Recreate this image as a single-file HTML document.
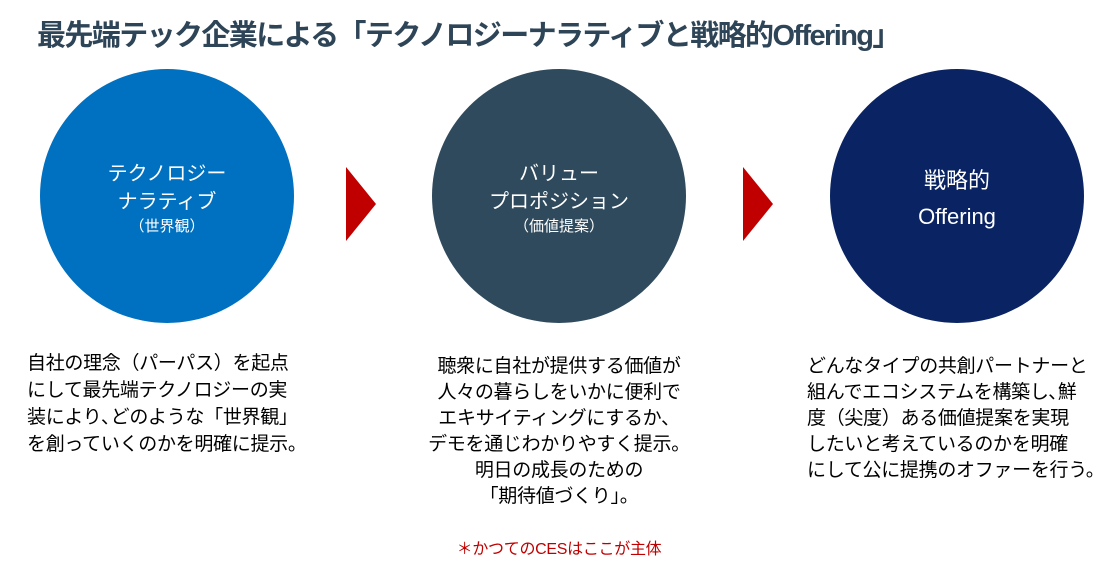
<!DOCTYPE html>
<html><head><meta charset="utf-8"><style>
body{margin:0;width:1111px;height:562px;background:#fff;position:relative;overflow:hidden;font-family:"Liberation Sans","Noto Sans CJK JP",sans-serif;}
.t{position:absolute;left:37px;top:12px;font-size:29px;font-weight:bold;color:#2e4457;white-space:nowrap;letter-spacing:-1.6px}
.c{position:absolute;width:254px;height:254px;border-radius:50%;top:69px;color:#fff;text-align:center;display:flex;flex-direction:column;justify-content:center;}
.a{position:absolute;width:0;height:0;border-top:37px solid transparent;border-bottom:37px solid transparent;border-left:30px solid #c00000;top:167px}
.p{position:absolute;font-size:19px;color:#000;white-space:nowrap;letter-spacing:-0.3px}
</style></head><body>
<div class="t">最先端テック企業による「テクノロジーナラティブと戦略的Offering」</div>
<div class="c" style="left:40px;background:#0070c0"><div style="font-size:20px;line-height:28px;margin-top:6px">テクノロジー<br>ナラティブ</div><div style="font-size:15px;line-height:22px">（世界観）</div></div>
<div class="a" style="left:346px"></div>
<div class="c" style="left:432px;background:#2f4a5d"><div style="font-size:20px;line-height:28px;margin-top:6px">バリュー<br>プロポジション</div><div style="font-size:15px;line-height:22px">（価値提案）</div></div>
<div class="a" style="left:743px"></div>
<div class="c" style="left:830px;background:#0a2463"><div style="font-size:22px;line-height:36px;margin-top:6px">戦略的<br>Offering</div></div>
<div class="p" style="left:27px;top:350px;line-height:27px">自社の理念（パーパス）を起点<br>にして最先端テクノロジーの実<br>装により､どのような「世界観」<br>を創っていくのかを明確に提示。</div>
<div class="p" style="left:400px;width:318px;text-align:center;top:354px;line-height:26px">聴衆に自社が提供する価値が<br>人々の暮らしをいかに便利で<br>エキサイティングにするか、<br>デモを通じわかりやすく提示。<br>明日の成長のための<br>「期待値づくり」。</div>
<div class="p" style="left:400px;width:318px;text-align:center;top:535px;font-size:16px;color:#c00000">＊かつてのCESはここが主体</div>
<div class="p" style="left:807px;top:354px;line-height:26px">どんなタイプの共創パートナーと<br>組んでエコシステムを構築し､鮮<br>度（尖度）ある価値提案を実現<br>したいと考えているのかを明確<br>にして公に提携のオファーを行う。</div>
</body></html>
